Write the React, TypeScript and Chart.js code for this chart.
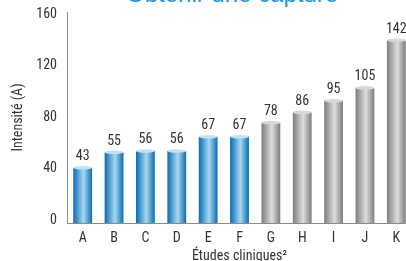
import React, { useEffect, useRef } from "react";
import { Chart, registerables } from "chart.js";

Chart.register(...registerables);

const categories = ["A", "B", "C", "D", "E", "F", "G", "H", "I", "J", "K"];
const values = [43, 55, 56, 56, 67, 67, 78, 86, 95, 105, 142];
const groups = ["blue", "blue", "blue", "blue", "blue", "blue", "gray", "gray", "gray", "gray", "gray"];
const yTicks = [0, 40, 80, 120, 160];
const yTitle = "Intensité (A)";
const xTitle = "Études cliniques²";
const chartTitle = "Obtenir une capture";

const FONT = "'Roboto Condensed', 'Liberation Sans Narrow', 'DejaVu Sans Condensed', sans-serif";
const TEXT = "#333333";

const palette: Record<string, { edge: string; mid: string; cap: string }> = {
  blue: { edge: "#0a6cb0", mid: "#a6d9f2", cap: "#bfe3f6" },
  gray: { edge: "#7d7d7d", mid: "#dedede", cap: "#d8d8d8" },
};

function barFill(ctx: any) {
  const chart = ctx.chart;
  const xs = chart.scales?.x;
  const g = palette[groups[ctx.dataIndex]] || palette.blue;
  if (!xs || !chart.chartArea) return g.edge;
  const cx = xs.getPixelForValue(ctx.dataIndex);
  const w = (xs.width / categories.length) * 0.6;
  const grad = chart.ctx.createLinearGradient(cx - w / 2, 0, cx + w / 2, 0);
  grad.addColorStop(0, g.edge);
  grad.addColorStop(0.55, g.mid);
  grad.addColorStop(1, g.edge);
  return grad;
}

const decorPlugin = {
  id: "decor",
  afterDatasetsDraw(chart: any) {
    const ctx = chart.ctx;
    const meta = chart.getDatasetMeta(0);
    ctx.save();
    meta.data.forEach((el: any, i: number) => {
      const p = el.getProps(["x", "y", "width"], true);
      const g = palette[groups[i]] || palette.blue;
      ctx.fillStyle = g.cap;
      ctx.beginPath();
      ctx.ellipse(p.x, p.y, p.width / 2, 1.8, 0, 0, Math.PI * 2);
      ctx.fill();
      ctx.fillStyle = TEXT;
      ctx.font = `14px ${FONT}`;
      ctx.textAlign = "center";
      ctx.textBaseline = "bottom";
      ctx.fillText(String(values[i]), p.x, p.y - 4);
    });
    ctx.restore();
  },
};

export default function App() {
  const ref = useRef<HTMLCanvasElement | null>(null);
  useEffect(() => {
    if (!ref.current) return;
    const chart = new Chart(ref.current, {
      type: "bar",
      data: {
        labels: categories,
        datasets: [
          {
            data: values,
            backgroundColor: barFill,
            borderWidth: 0,
            barPercentage: 0.6,
            categoryPercentage: 1,
          },
        ],
      },
      options: {
        responsive: false,
        animation: false,
        layout: { padding: { top: 12, left: 10, right: 2, bottom: 0 } },
        plugins: { legend: { display: false }, tooltip: { enabled: false } },
        scales: {
          x: {
            grid: { display: false, drawTicks: false },
            border: { color: "#8a8a8a", width: 1 },
            ticks: { color: TEXT, font: { family: FONT, size: 14 }, padding: 7 },
            title: {
              display: true,
              text: xTitle,
              color: TEXT,
              font: { family: FONT, size: 14, lineHeight: 1 },
              padding: { top: 0, bottom: -2 },
            },
            afterFit: (scale: any) => {
              scale.height = 38;
              scale.paddingLeft = 0;
              scale.paddingRight = 0;
            },
          },
          y: {
            min: 0,
            max: 164,
            afterBuildTicks: (axis: any) => {
              axis.ticks = yTicks.map((v) => ({ value: v }));
            },
            grid: { display: false, drawTicks: false },
            border: { color: "#8a8a8a", width: 1 },
            ticks: {
              color: TEXT,
              font: { family: FONT, size: 14 },
              padding: 10,
              labelOffset: -3,
            },
            title: {
              display: true,
              text: yTitle,
              color: TEXT,
              font: { family: FONT, size: 14 },
              padding: { top: 0, bottom: 2 },
            },
            afterFit: (scale: any) => {
              scale.width = 57;
              scale.paddingTop = 0;
              scale.paddingBottom = 0;
            },
          },
        },
      },
      plugins: [decorPlugin],
    });
    return () => chart.destroy();
  }, []);

  return (
    <div
      style={{
        position: "fixed",
        left: 0,
        top: 0,
        width: 406,
        height: 261,
        overflow: "hidden",
        background: "#ffffff",
      }}
    >
      <div
        style={{
          position: "absolute",
          left: 126,
          top: -18,
          fontFamily: "'Liberation Sans', 'Roboto', sans-serif",
          fontSize: 24,
          lineHeight: "24px",
          color: "#1a9ad8",
          whiteSpace: "nowrap",
        }}
      >
        {chartTitle}
      </div>
      <canvas ref={ref} width={414} height={261} style={{ position: "absolute", left: 0, top: 0 }} />
    </div>
  );
}
